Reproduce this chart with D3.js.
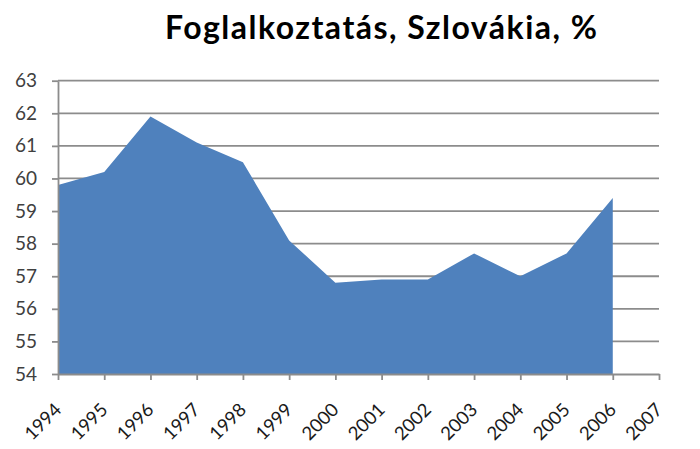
<!DOCTYPE html>
<html><head><meta charset="utf-8">
<script src="https://cdn.jsdelivr.net/npm/d3@7"></script>
<style>body{margin:0;background:#fff}svg{display:block}</style>
</head><body>
<svg id="c" width="700" height="449"></svg>
<script>
const years = ["1994","1995","1996","1997","1998","1999","2000","2001","2002","2003","2004","2005","2006","2007"];
const values = [59.8,60.2,61.9,61.1,60.5,58.1,56.8,56.9,56.9,57.7,57.0,57.7,59.4];
const yTicks = [54,55,56,57,58,59,60,61,62,63];
const title = "Foglalkoztatás, Szlovákia, %";

const svg = d3.select("#c");
const mLeft = 58, mRight = 659, mTop = 80.7, mBottom = 374;
const x = d3.scalePoint().domain(years).range([mLeft, mRight]);
const y = d3.scaleLinear().domain([54,63]).range([mBottom, mTop]);
const grid = "#8c8c8c";
const font = "Lato, 'Open Sans', sans-serif";

// gridlines
svg.append("g").selectAll("line").data(yTicks.filter(d=>d>54)).join("line")
  .attr("x1", mLeft).attr("x2", mRight).attr("y1", d=>y(d)).attr("y2", d=>y(d))
  .attr("stroke", grid).attr("stroke-width", 1.8);

// area
const data = values.map((v,i)=>({year:years[i], v}));
svg.append("path").datum(data)
  .attr("d", d3.area().x(d=>x(d.year)).y0(y(54)).y1(d=>y(d.v)))
  .attr("fill", "#4F81BD");

// y axis
const ya = svg.append("g").attr("transform", `translate(${mLeft},0)`)
  .call(d3.axisLeft(y).tickValues(yTicks).tickSize(6).tickSizeOuter(0).tickPadding(15));
ya.select(".domain").attr("stroke", grid).attr("stroke-width", 1.8);
ya.selectAll(".tick line").attr("stroke", grid).attr("stroke-width", 1.8);
ya.selectAll(".tick text").attr("fill", "#404040").style("font-family", font).style("font-size", "19px");

// x axis
const xa = svg.append("g").attr("transform", `translate(0,${mBottom})`)
  .call(d3.axisBottom(x).tickSize(6).tickSizeOuter(0));
xa.select(".domain").attr("stroke", grid).attr("stroke-width", 1.8);
xa.selectAll(".tick line").attr("stroke", grid).attr("stroke-width", 1.8);
xa.selectAll(".tick text")
  .attr("fill", "#1a1a1a")
  .style("font-family", font).style("font-size", "18.5px")
  .attr("text-anchor", "end").attr("dy", null).attr("y", 0)
  .attr("transform", "translate(4,37) rotate(-45)");

svg.append("text").text(title)
  .attr("x", 165).attr("y", 39)
  .attr("textLength", 432).attr("lengthAdjust", "spacing")
  .style("font-family", font).style("font-weight", "bold")
  .style("font-size", "32px").attr("fill", "#000");
</script>
</body></html>
